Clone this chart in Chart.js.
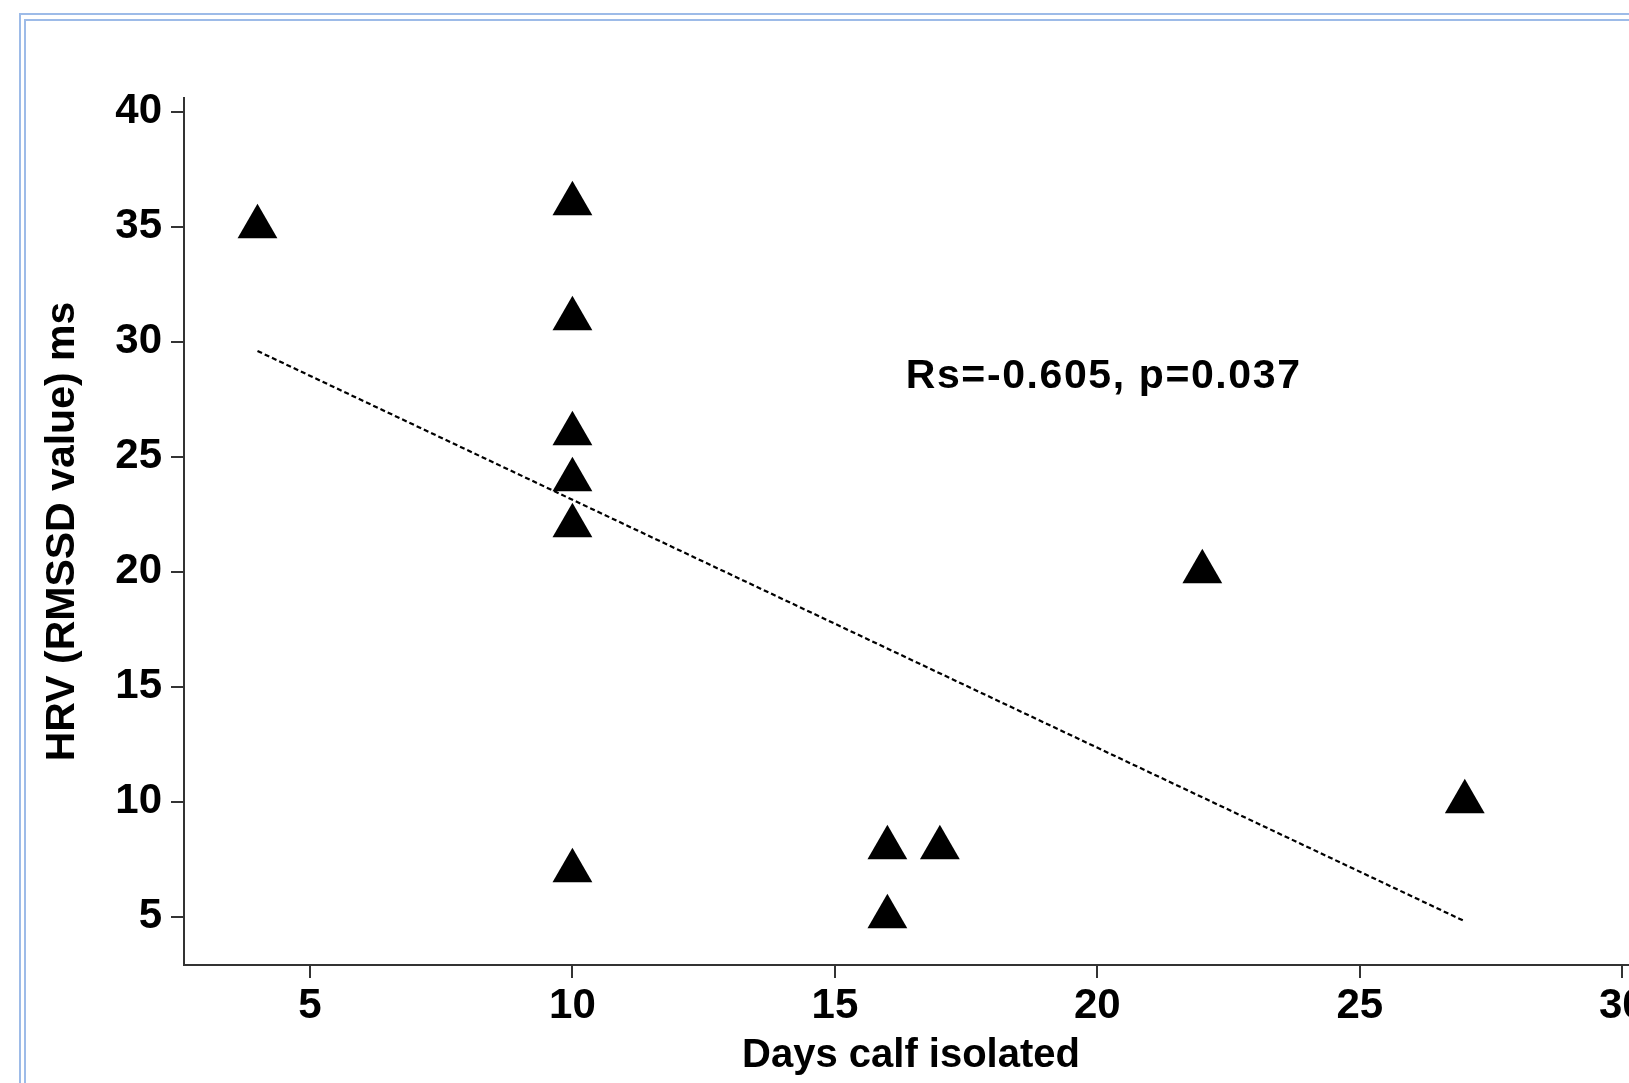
<!DOCTYPE html>
<html>
<head>
<meta charset="utf-8">
<script src="https://cdn.jsdelivr.net/npm/chart.js@4.4.1/dist/chart.umd.min.js"></script>
<style>
    html, body { margin: 0; padding: 0; background: #fff; overflow: hidden; width: 1629px; height: 1083px; }
    .frame { position: absolute; border: 2px solid #9dbbe8; width: 2000px; height: 2000px; }
    #outer { left: 19px; top: 13px; }
    #inner { left: 24px; top: 19px; }
    #chart { position: absolute; left: 0; top: 0; }
</style>
</head>
<body>
<div class="frame" id="outer"></div>
<div class="frame" id="inner"></div>
<canvas id="chart" width="1700" height="1083"></canvas>
<script>
// Datos
const daysIsolated = [4, 10, 10, 10, 10, 10, 10, 16, 17, 16, 22, 27];
const hrvValues = [35, 36, 31, 26, 24, 22, 7, 8, 8, 5, 20, 10];

// Linea de tendencia (extremos)
const trendX = [4, 27];
const trendY = [29.6, 4.8];

const xTicks = [5, 10, 15, 20, 25, 30];
const yTicks = [5, 10, 15, 20, 25, 30, 35, 40];

const statsLabel = 'Rs=-0.605, p=0.037';
const statsPos = { x: 16.35, y: 28.5 };

const FONT = '"Liberation Sans", Arial, sans-serif';

const scatterData = daysIsolated.map((d, i) => ({ x: d, y: hrvValues[i] }));
const trendData = trendX.map((d, i) => ({ x: d, y: trendY[i] }));

// Texto de la correlacion sobre el grafico
const statsText = {
    id: 'statsText',
    afterDatasetsDraw(chart) {
        const ctx = chart.ctx;
        const px = chart.scales.x.getPixelForValue(statsPos.x);
        const py = chart.scales.y.getPixelForValue(statsPos.y);
        ctx.save();
        ctx.font = 'bold 41px ' + FONT;
        ctx.letterSpacing = '1.6px';
        ctx.fillStyle = '#000';
        ctx.textAlign = 'left';
        ctx.textBaseline = 'middle';
        ctx.fillText(statsLabel, px, py);
        ctx.restore();
    }
};

function noPadding(scale) {
    scale.paddingTop = 0;
    scale.paddingBottom = 0;
    scale.paddingLeft = 0;
    scale.paddingRight = 0;
}

const ctx = document.getElementById('chart').getContext('2d');

new Chart(ctx, {
    type: 'scatter',
    data: {
        datasets: [
            {
                label: 'HRV',
                data: scatterData,
                pointStyle: 'triangle',
                pointRadius: 23,
                pointHoverRadius: 23,
                backgroundColor: '#000',
                borderWidth: 0,
            },
            {
                type: 'line',
                label: 'Tendencia',
                data: trendData,
                borderColor: '#000',
                borderWidth: 2.2,
                borderDash: [5, 3],
                pointRadius: 0,
                fill: false,
            },
        ],
    },
    options: {
        responsive: false,
        animation: false,
        devicePixelRatio: 1,
        layout: {
            padding: { top: 98, right: 62, bottom: 0, left: 0 },
        },
        scales: {
            x: {
                type: 'linear',
                min: 2.6,
                max: 30.3,
                afterBuildTicks: (scale) => { scale.ticks = xTicks.map(v => ({ value: v })); },
                afterFit: (scale) => { scale.height = 118; noPadding(scale); },
                ticks: {
                    includeBounds: false,
                    padding: 3,
                    color: '#000',
                    font: { family: FONT, size: 42, weight: 'bold' },
                },
                grid: {
                    display: true,
                    drawOnChartArea: false,
                    drawTicks: true,
                    tickLength: 13,
                    lineWidth: 2,
                    color: '#333',
                },
                border: { display: true, color: '#333', width: 2 },
                title: {
                    display: true,
                    text: 'Days calf isolated',
                    color: '#000',
                    font: { family: FONT, size: 40, weight: 'bold' },
                    padding: { top: 0, bottom: 3 },
                },
            },
            y: {
                type: 'linear',
                min: 2.9,
                max: 40.6,
                afterBuildTicks: (scale) => { scale.ticks = yTicks.map(v => ({ value: v })); },
                afterFit: (scale) => { scale.width = 184; noPadding(scale); },
                ticks: {
                    includeBounds: false,
                    padding: 9,
                    color: '#000',
                    font: { family: FONT, size: 42, weight: 'bold' },
                },
                grid: {
                    display: true,
                    drawOnChartArea: false,
                    drawTicks: true,
                    tickLength: 13,
                    lineWidth: 2,
                    color: '#333',
                },
                border: { display: true, color: '#333', width: 2 },
                title: {
                    display: true,
                    text: 'HRV (RMSSD value) ms',
                    color: '#000',
                    font: { family: FONT, size: 41, weight: 'bold' },
                    padding: { top: 38, bottom: 0 },
                },
            },
        },
        plugins: {
            legend: { display: false },
            tooltip: { enabled: false },
        },
    },
    plugins: [statsText],
});
</script>
</body>
</html>
